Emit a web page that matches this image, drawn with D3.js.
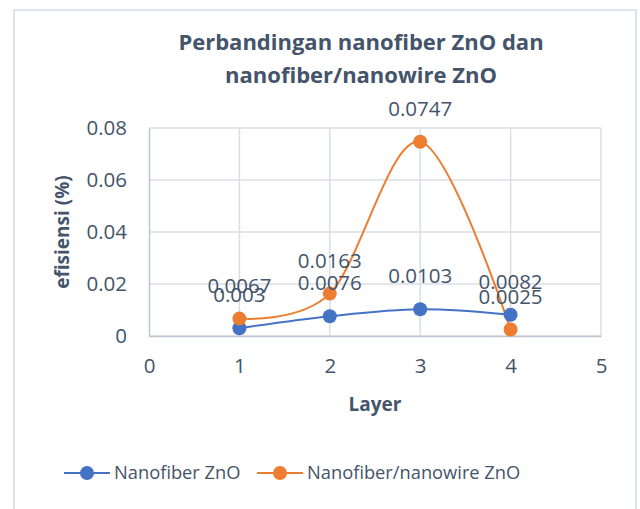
<html>
<head>
<meta charset="utf-8"/>
<title>Perbandingan nanofiber ZnO</title>
<script src="https://d3js.org/d3.v7.min.js"></script>
<style>
  body { margin: 0; background: #fff; }
  text { font-family: "Open Sans", "Noto Sans", sans-serif; fill: #44546a; }
  .title { font-weight: 700; font-size: 22px; }
  .axisTitle { font-weight: 700; font-size: 19px; }
  .dataLabel { font-size: 20.5px; }
  .legendText { font-size: 18.3px; }
</style>
</head>
<body>
<svg id="chart" width="640" height="509"></svg>
<script>

// data
var layers = [1, 2, 3, 4];
var nanofiber = [0.003, 0.0076, 0.0103, 0.0082];
var nanowire = [0.0067, 0.0163, 0.0747, 0.0025];
var seriesNames = ["Nanofiber ZnO", "Nanofiber/nanowire ZnO"];
var seriesColors = ["#4472c4", "#ed7d31"];
var xTicks = [0, 1, 2, 3, 4, 5];
var yTicks = [0, 0.02, 0.04, 0.06, 0.08];

var svg = d3.select("#chart");

// chart frame
svg.append("rect").attr("x", 14).attr("y", 10).attr("width", 622).attr("height", 520)
  .style("fill", "#fff").style("stroke", "#dfe4ec").style("stroke-width", 2);

var margin = {top: 128, left: 149, right: 39, bottom: 173},
    width = 640 - margin.left - margin.right,
    height = 509 - margin.top - margin.bottom;

var x = d3.scaleLinear().domain([0, 5]).range([0, width]);
var y = d3.scaleLinear().domain([0, 0.08]).range([height, 0]);

var g = svg.append("g").attr("transform", "translate(" + margin.left + "," + margin.top + ")");

// grid
g.selectAll(".hgrid").data(yTicks).enter().append("line")
  .attr("x1", 0).attr("x2", width)
  .attr("y1", function(d) { return y(d); }).attr("y2", function(d) { return y(d); })
  .style("stroke", "#d9dee7").style("stroke-width", 1.5);
g.selectAll(".vgrid").data(xTicks.slice(1)).enter().append("line")
  .attr("x1", function(d) { return x(d); }).attr("x2", function(d) { return x(d); })
  .attr("y1", 0).attr("y2", height)
  .style("stroke", "#d9dee7").style("stroke-width", 1.5);

// axes
var yAxis = g.append("g").call(d3.axisLeft(y).tickValues(yTicks).tickSize(0).tickPadding(22)
  .tickFormat(function(d) { return d === 0 ? "0" : d3.format(".2f")(d); }));
yAxis.select(".domain").style("stroke", "#bfc6d2").style("stroke-width", 1.5);

var xAxis = g.append("g").attr("transform", "translate(0," + height + ")")
  .call(d3.axisBottom(x).tickValues(xTicks).tickSize(0).tickPadding(22).tickFormat(d3.format("d")));
xAxis.select(".domain").style("stroke", "#bfc6d2").style("stroke-width", 1.5);
g.selectAll(".tick text").style("fill", "#44546a").style("font-family", "Open Sans").style("font-size", "20.5px");

// titles
svg.append("text").attr("class", "title").attr("x", 361).attr("y", 50).attr("text-anchor", "middle")
  .text("Perbandingan nanofiber ZnO dan");
svg.append("text").attr("class", "title").attr("x", 361).attr("y", 83).attr("text-anchor", "middle")
  .text("nanofiber/nanowire ZnO");
svg.append("text").attr("class", "axisTitle").attr("text-anchor", "middle")
  .attr("transform", "translate(69," + (margin.top + height / 2) + ") rotate(-90)")
  .text("efisiensi (%)");
svg.append("text").attr("class", "axisTitle").attr("text-anchor", "middle")
  .attr("x", margin.left + width / 2).attr("y", 411).text("Layer");

// series
var series = [nanofiber, nanowire];
var line = d3.line().curve(d3.curveCardinal.tension(0))
  .x(function(d, i) { return x(layers[i]); })
  .y(function(d) { return y(d); });

series.forEach(function(vals, s) {
  g.append("path").datum(vals).attr("d", line)
    .style("fill", "none").style("stroke", seriesColors[s]).style("stroke-width", 2);
});
series.forEach(function(vals, s) {
  g.selectAll(".pt" + s).data(vals).enter().append("circle")
    .attr("cx", function(d, i) { return x(layers[i]); })
    .attr("cy", function(d) { return y(d); })
    .attr("r", 7).style("fill", seriesColors[s]);
});
series.forEach(function(vals, s) {
  g.selectAll(".lbl" + s).data(vals).enter().append("text").attr("class", "dataLabel")
    .attr("x", function(d, i) { return x(layers[i]); })
    .attr("y", function(d) { return y(d) - 26; })
    .attr("text-anchor", "middle")
    .text(function(d) { return String(d); });
});

// legend
var legendX = [64, 257];
seriesNames.forEach(function(name, s) {
  var lg = svg.append("g").attr("transform", "translate(" + legendX[s] + ",473)");
  lg.append("line").attr("x1", 0).attr("x2", 46).attr("y1", 0).attr("y2", 0)
    .style("stroke", seriesColors[s]).style("stroke-width", 2);
  lg.append("circle").attr("cx", 23).attr("cy", 0).attr("r", 7).style("fill", seriesColors[s]);
  lg.append("text").attr("class", "legendText").attr("x", 50).attr("y", 0).attr("dy", "0.35em").text(name);
});

</script>
</body>
</html>
